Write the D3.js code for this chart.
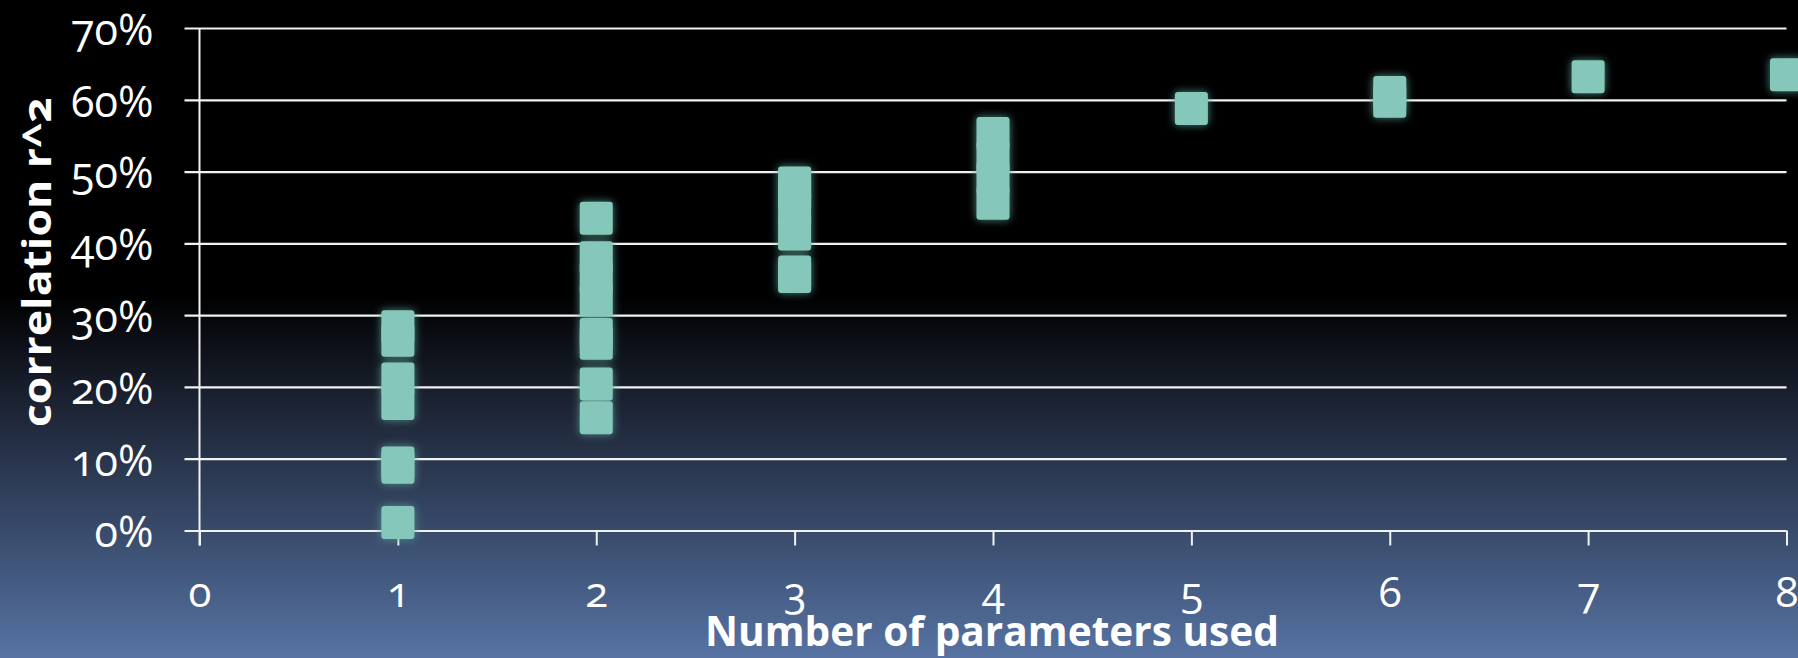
<!DOCTYPE html>
<html>
<head>
<meta charset="utf-8">
<script src="https://cdn.jsdelivr.net/npm/d3@7"></script>
<style>
  html, body { margin: 0; padding: 0; background: #000; overflow: hidden; }
  svg { display: block; }
  text { font-family: "Open Sans", Lato, sans-serif; fill: #ffffff; font-variant-numeric: oldstyle-nums; }
</style>
</head>
<body>
<svg id="chart" width="1798" height="658"></svg>
<script>
// ---- data ----
const paramCounts = [1,1,1,1,1,1,1, 2,2,2,2,2,2,2,2, 3,3,3,3,3,3, 4,4,4,4, 5, 6,6, 7, 8];
const r2Values = [0.284,0.265,0.211,0.177,0.094,0.088,0.011,
                  0.435,0.380,0.352,0.321,0.273,0.261,0.204,0.157,
                  0.484,0.470,0.449,0.413,0.360,0.354,
                  0.553,0.520,0.491,0.456,
                  0.588,
                  0.610,0.598,
                  0.632,
                  0.635];
const xTicks = [0,1,2,3,4,5,6,7,8];
const yTicks = [0,0.1,0.2,0.3,0.4,0.5,0.6,0.7];
const xTitle = "Number of parameters used";
const yTitle = "correlation r^2";

const W = 1798, H = 658;
const svg = d3.select("#chart");
const defs = svg.append("defs");

// background gradient
const grad = defs.append("linearGradient").attr("id","bg").attr("x1",0).attr("y1",0).attr("x2",0).attr("y2",1);
grad.append("stop").attr("offset","0").attr("stop-color","#000000");
grad.append("stop").attr("offset","0.45").attr("stop-color","#000000");
grad.append("stop").attr("offset","0.59").attr("stop-color","#181e2c");
grad.append("stop").attr("offset","1").attr("stop-color","#5673a3");
svg.append("rect").attr("width",W).attr("height",H).attr("fill","url(#bg)");

// glow filter
const f = defs.append("filter").attr("id","glow").attr("x","-50%").attr("y","-50%").attr("width","200%").attr("height","200%");
f.append("feGaussianBlur").attr("in","SourceAlpha").attr("stdDeviation",4.5).attr("result","blur");
f.append("feFlood").attr("flood-color","#57a093").attr("flood-opacity",0.85).attr("result","col");
f.append("feComposite").attr("in","col").attr("in2","blur").attr("operator","in").attr("result","shadow");
const m = f.append("feMerge");
m.append("feMergeNode").attr("in","shadow");
m.append("feMergeNode").attr("in","SourceGraphic");

const x = d3.scaleLinear().domain([0,8]).range([199.5,1786.5]);
const y = d3.scaleLinear().domain([0,0.7]).range([530.5,28]);

// gridlines (y axis with ticks extending across)
const yAxis = d3.axisLeft(y).tickValues(yTicks).tickSize(0).tickFormat("");
const gy = svg.append("g").attr("transform",`translate(${x(0)},0)`).call(yAxis);
gy.select(".domain").remove();
gy.selectAll(".tick line").remove();
gy.selectAll(".tick").append("line")
  .attr("x1",-15).attr("x2",x(8)-x(0))
  .attr("stroke","#f2f2f2").attr("stroke-width",2.2);
gy.selectAll(".tick").append("text")
  .attr("x",-46).attr("dy","0.38em")
  .attr("text-anchor","end")
  .style("font-size","43px")
  .text(d => d3.format(".0%")(d));

// y axis line
svg.append("line").attr("x1",x(0)).attr("x2",x(0)).attr("y1",y(0.7)).attr("y2",y(0)+15)
  .attr("stroke","#f2f2f2").attr("stroke-width",2);

// x axis ticks
const xAxis = d3.axisBottom(x).tickValues(xTicks).tickSize(15).tickFormat("");
const gx = svg.append("g").attr("transform",`translate(0,${y(0)})`).call(xAxis);
gx.select(".domain").remove();
gx.selectAll(".tick line").attr("stroke","#f2f2f2").attr("stroke-width",2);
gx.selectAll(".tick").append("text")
  .attr("y",76).attr("text-anchor","middle")
  .style("font-size","42px")
  .text(d => d);

// markers
const S = 33;
svg.append("g").attr("filter","url(#glow)")
  .selectAll("rect").data(paramCounts.map((p,i)=>({p, v:r2Values[i]})))
  .join("rect")
  .attr("x", d => x(d.p) - S/2)
  .attr("y", d => y(d.v) - S/2)
  .attr("width",S).attr("height",S).attr("rx",3)
  .attr("fill","#86c7bb");

// titles
svg.append("text").attr("x",992).attr("y",646).attr("text-anchor","middle")
  .style("font-size","41px").style("font-weight","700")
  .attr("textLength",574).attr("lengthAdjust","spacingAndGlyphs")
  .text(xTitle);
svg.append("text").attr("transform","translate(51,262) rotate(-90)").attr("text-anchor","middle")
  .style("font-size","40px").style("font-weight","700")
  .attr("textLength",330).attr("lengthAdjust","spacingAndGlyphs")
  .text(yTitle);
</script>
</body>
</html>
